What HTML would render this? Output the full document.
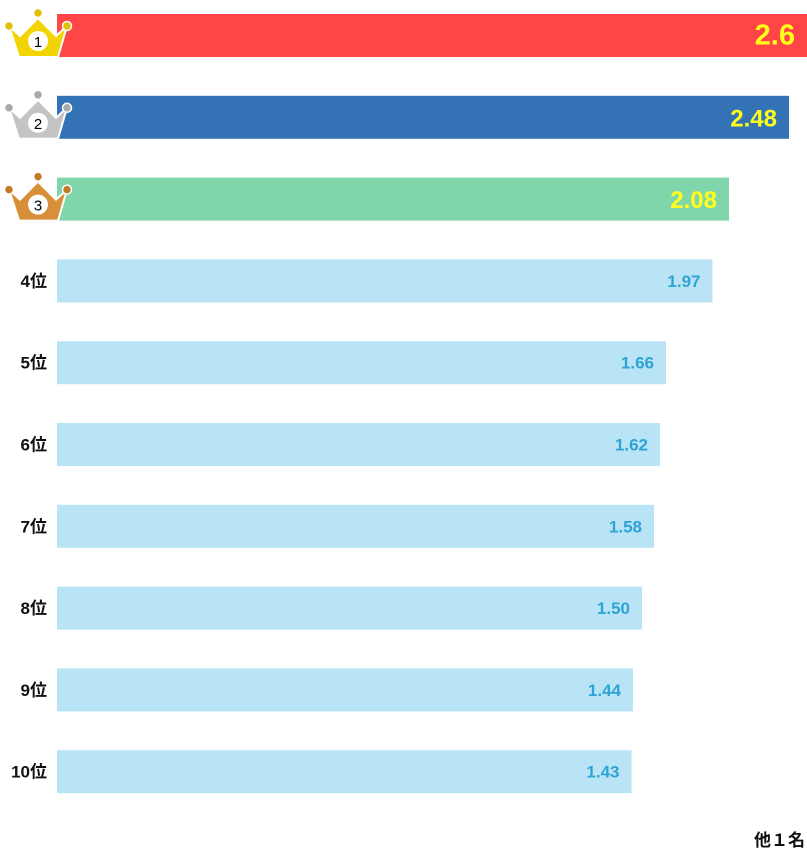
<!DOCTYPE html>
<html><head><meta charset="utf-8">
<style>
body{margin:0;width:807px;height:852px;background:#fff;overflow:hidden;font-family:"Liberation Sans","Noto Sans CJK JP",sans-serif;}
svg{display:block}
</style></head>
<body>
<svg id="chart" width="807" height="852" xmlns="http://www.w3.org/2000/svg"></svg>
<script>
const categories = ["1位","2位","3位","4位","5位","6位","7位","8位","9位","10位"];
const values = [2.6, 2.48, 2.08, 1.97, 1.66, 1.62, 1.58, 1.50, 1.44, 1.43];
const labels = ["2.6","2.48","2.08","1.97","1.66","1.62","1.58","1.50","1.44","1.43"];
const NS = "http://www.w3.org/2000/svg";
const svg = document.getElementById("chart");
const x0 = 57, x1 = 807, dMin = -2.4, dMax = 2.6;
function xs(v){ return x0 + (v - dMin) / (dMax - dMin) * (x1 - x0); }
function ys(i){ return 14 + i * 81.8; }
const barH = 43;
const barColors = ["#ff4545","#3373b5","#80d6ab"];
const crownColors = [["#f2d400","#e0c000"],["#c4c4c4","#aaaaaa"],["#d88f3a","#c27a28"]];
function mk(tag, attrs){ const e = document.createElementNS(NS, tag); for (const k in attrs) e.setAttribute(k, attrs[k]); svg.appendChild(e); return e; }
values.forEach((v, i) => {
  const y = ys(i);
  const top = i < 3;
  const bar = mk("rect", {x: x0, y: y, width: xs(v) - x0, height: barH, fill: top ? barColors[i] : "#b8e4f5"});
  
  
  const t = mk("text", {x: xs(v) - (top ? 12 : 12), y: y + barH / 2 + (top ? 9 : 6), "text-anchor": "end", "font-weight": "bold", "font-size": top ? (i === 0 ? 29 : 24) : 17, fill: top ? "#ffff1a" : "#2fa3d4"});
  t.textContent = labels[i];
  
  
  if (top) {
    const g = document.createElementNS(NS, "g");
    
    
    svg.appendChild(g);
    const by = y + 43, ty = y - 8;
    const c = crownColors[i];
    g.innerHTML =
      '<path d="M9 '+(ty+20)+' L20 '+(ty+30)+' L38 '+(ty+12)+' L56 '+(ty+30)+' L67 '+(ty+20)+' L58 '+by+' L19 '+by+' Z" fill="'+c[0]+'" stroke="#fff" stroke-width="2"/>' +
      '<circle cx="9" cy="'+(ty+20)+'" r="4.5" fill="'+c[1]+'" stroke="#fff" stroke-width="1.5"/>' +
      '<circle cx="67" cy="'+(ty+20)+'" r="4.5" fill="'+c[1]+'" stroke="#fff" stroke-width="1.5"/>' +
      '<circle cx="38" cy="'+(ty+7)+'" r="4.5" fill="'+c[1]+'" stroke="#fff" stroke-width="1.5"/>' +
      '<circle cx="38" cy="'+(by-16)+'" r="10" fill="#fff"/>' +
      '<text x="38" y="'+(by-10)+'" text-anchor="middle" font-size="15" fill="#000">'+(i+1)+'</text>';
  } else {
    const r = mk("text", {x: 47, y: y + barH / 2 + 6, "text-anchor": "end", "font-weight": "bold", "font-size": 17, fill: "#111"});
    r.textContent = categories[i];
    
    
  }
});
const foot = mk("text", {x: 805, y: 846, "text-anchor": "end", "font-weight": "bold", "font-size": 17, fill: "#111"});
foot.textContent = "他１名";


</script>
</body></html>
